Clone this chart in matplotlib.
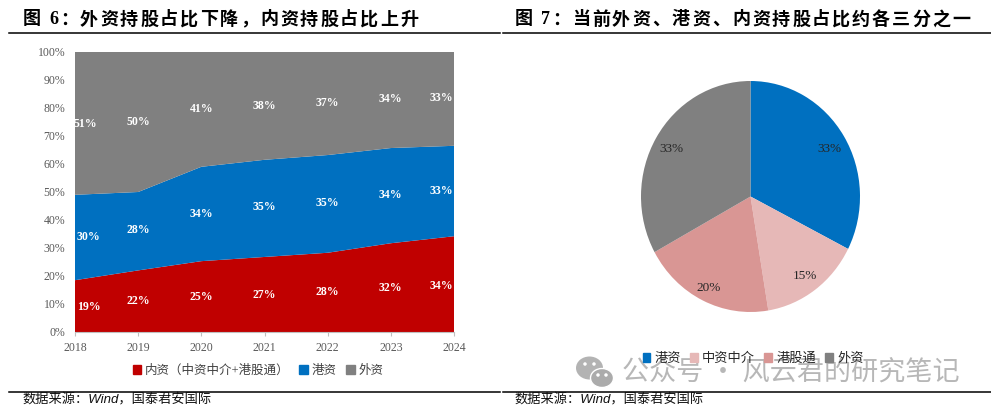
import matplotlib
matplotlib.use('Agg')
import matplotlib.pyplot as plt
from matplotlib.lines import Line2D
from matplotlib.patches import Patch, Ellipse
import matplotlib.ticker as mticker

plt.rcParams['font.family'] = ['Liberation Serif', 'Noto Sans CJK SC', 'DejaVu Sans']

W, H = 991, 413

years = [2018, 2019, 2020, 2021, 2022, 2023, 2024]
neizi = [18.5, 22.0, 25.3, 26.8, 28.3, 31.7, 34.2]
gangzi = [30.5, 28.0, 33.7, 34.7, 34.9, 34.0, 32.3]
waizi = [51.0, 50.0, 41.0, 38.5, 36.8, 34.3, 33.5]

neizi_labels = ['19%', '22%', '25%', '27%', '28%', '32%', '34%']
gangzi_labels = ['30%', '28%', '34%', '35%', '35%', '34%', '33%']
waizi_labels = ['51%', '50%', '41%', '38%', '37%', '34%', '33%']

# where the labels sit, in data coordinates
label_x = [2018.22, 2019, 2020, 2021, 2022, 2023, 2023.8]
waizi_label_x = [2018.16, 2019, 2020, 2021, 2022, 2023, 2023.8]
neizi_label_y = [8.9, 11.1, 12.5, 13.2, 14.3, 15.7, 16.4]
gangzi_label_y = [33.9, 36.4, 42.3, 44.5, 46.0, 48.9, 50.4]
waizi_label_y = [74.3, 75.0, 79.6, 80.7, 81.8, 83.2, 83.6]

stack_names = ['内资（中资中介+港股通）', '港资', '外资']
stack_colors = ['#C00000', '#0070C0', '#808080']

pie_names = ['港资', '中资中介', '港股通', '外资']
pie_values = [32.5, 14.9, 19.6, 33.0]
pie_labels = ['33%', '15%', '20%', '33%']
pie_colors = ['#0070C0', '#E6B8B7', '#D99694', '#808080']

title_left = '图 6：外资持股占比下降，内资持股占比上升'
title_right = '图 7：当前外资、港资、内资持股占比约各三分之一'
source = '数据来源：Wind，国泰君安国际'
watermark = '公众号 · 风云君的研究笔记'


def px_axes(fig, left, top, right, bottom):
    return fig.add_axes([left / W, 1 - bottom / H, (right - left) / W, (bottom - top) / H])


def spaced_text(fig, x, y, text, pitch, **kw):
    # one char at a time, the reference has wide letter spacing
    for ch in text:
        if ch == ' ':
            x += pitch * 0.3
            continue
        fig.text(x / W, 1 - y / H, ch, ha='left', va='center', **kw)
        x += pitch * (0.55 if ch.isdigit() else 1.0)


def rule(fig, x0, x1, y, lw=1.1):
    fig.add_artist(Line2D([x0 / W, x1 / W], [1 - y / H, 1 - y / H], color='black', lw=lw))


fig = plt.figure(figsize=(W / 100, H / 100), dpi=100)

# left chart
ax = px_axes(fig, 75, 52, 454, 332)
ax.stackplot(years, neizi, gangzi, waizi, colors=stack_colors, linewidth=0)
ax.set_xlim(2018, 2024)
ax.set_ylim(0, 100)
ax.set_xticks(years)
ax.yaxis.set_major_locator(mticker.MultipleLocator(10))
ax.yaxis.set_major_formatter(mticker.FuncFormatter(lambda v, _: f'{v:.0f}%'))
for s in ['top', 'right', 'left']:
    ax.spines[s].set_visible(False)
ax.spines['bottom'].set_color('#BFBFBF')
ax.tick_params(axis='y', length=0, pad=7, labelsize=8.5, labelcolor='#595959')
ax.tick_params(axis='x', length=3, color='#BFBFBF', pad=4, labelsize=8.5, labelcolor='#595959')
for xs, vals, ys in [(label_x, neizi_labels, neizi_label_y),
                     (label_x, gangzi_labels, gangzi_label_y),
                     (waizi_label_x, waizi_labels, waizi_label_y)]:
    for x, y, t in zip(xs, ys, vals):
        ax.text(x, y, t, color='white', fontsize=8.5, fontweight='bold', ha='center', va='center')

handles = [Patch(color=c, label=n) for c, n in zip(stack_colors, stack_names)]
fig.legend(handles=handles, ncol=3, frameon=False, loc='center',
           bbox_to_anchor=(258 / W, 1 - 371 / H), fontsize=9, handlelength=0.7, handleheight=0.7,
           handletextpad=0.3, columnspacing=0.75, labelcolor='#404040')

# right chart
ax2 = px_axes(fig, 641, 81, 860, 312)
wedges, _ = ax2.pie(pie_values, colors=pie_colors, startangle=90, counterclock=False, radius=1.0)
ax2.set_aspect('auto')
ax2.set_xlim(-1, 1)
ax2.set_ylim(-1, 1)
pie_label_x = [0.717, 0.50, -0.38, -0.726]
pie_label_y = [0.41, -0.69, -0.79, 0.41]
for x, y, t in zip(pie_label_x, pie_label_y, pie_labels):
    ax2.text(x, y, t, color='#262626', fontsize=9.5, ha='center', va='center')

handles2 = [Patch(color=c, label=n) for c, n in zip(pie_colors, pie_names)]
fig.legend(handles=handles2, ncol=4, frameon=False, loc='center',
           bbox_to_anchor=(753 / W, 1 - 359 / H), fontsize=9.5, handlelength=0.6, handleheight=0.6,
           handletextpad=0.3, columnspacing=0.7, labelcolor='#262626')

# titles, rules, sources
spaced_text(fig, 23, 20, title_left, 20.0, fontsize=13, fontweight='bold', color='black')
spaced_text(fig, 515, 20, title_right, 20.0, fontsize=13, fontweight='bold', color='black')
rule(fig, 9, 500, 33)
rule(fig, 503, 991, 33)
rule(fig, 9, 500, 392)
rule(fig, 503, 991, 392)
for x in [22, 514]:
    fig.text(x / W, 1 - 400 / H, source, fontsize=9.5, style='italic', va='center', ha='left',
             family=['Liberation Sans', 'Noto Sans CJK SC'], color='#101010')

# watermark
wm = fig.add_axes([0, 0, 1, 1], facecolor='none')
wm.set_xlim(0, W)
wm.set_ylim(H, 0)
wm.axis('off')
wm_gray = '#ABABAB'
wm.add_patch(Ellipse((589.5, 368), 27, 23, color=wm_gray, alpha=0.9, lw=0))
wm.add_patch(Ellipse((602, 378), 23, 19, fc=wm_gray, ec='white', lw=1))
for ex, ey in [(585, 364), (594, 364), (598, 375), (606, 375)]:
    wm.add_patch(Ellipse((ex, ey), 3.5, 3.5, color='white', lw=0))
wm.text(622, 373, watermark, fontsize=19.5, color=wm_gray, alpha=0.85, va='center', ha='left',
        family=['Noto Sans CJK SC', 'DejaVu Sans'])

fig.savefig('out.png', dpi=100)
